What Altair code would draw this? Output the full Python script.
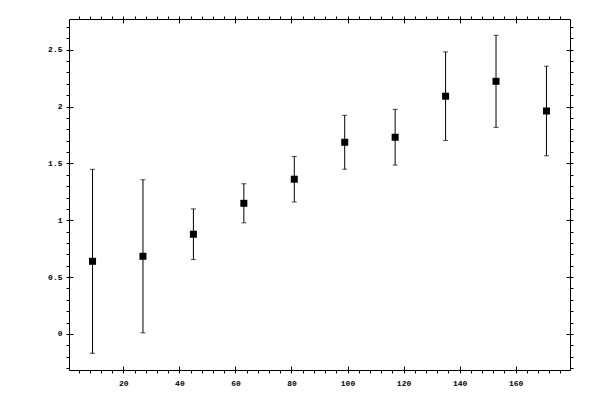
import altair as alt
import pandas as pd

x_vals = [9, 27, 45, 63, 81, 99, 117, 135, 153, 171]
y_vals = [0.639, 0.683, 0.877, 1.149, 1.361, 1.686, 1.730, 2.091, 2.222, 1.961]
err_vals = [0.809, 0.673, 0.223, 0.172, 0.200, 0.237, 0.245, 0.390, 0.405, 0.394]

x_ticks = list(range(4, 180, 4))
x_major = [20, 40, 60, 80, 100, 120, 140, 160]
y_ticks = [round(-0.3 + 0.1 * i, 1) for i in range(31)]
y_major = [0, 0.5, 1, 1.5, 2, 2.5]

df = pd.DataFrame({"x": x_vals, "y": y_vals, "err": err_vals})
df["lo"] = df["y"] - df["err"]
df["hi"] = df["y"] + df["err"]

xs = alt.Scale(domain=[0.6, 179.4], nice=False, zero=False)
ys = alt.Scale(domain=[-0.317, 2.770], nice=False, zero=False)

common = dict(
    domainColor="black", tickColor="black", labelColor="black",
    labelFont="Liberation Mono", labelFontSize=8, labelFontWeight="bold",
    grid=False, title=None,
    labelOverlap=False, labelFlush=False, tickWidth=1, domainWidth=1,
)

ax_bottom_out = alt.Axis(orient="bottom", values=x_ticks, tickSize=3, labelPadding=6,
                         labelExpr="datum.value % 20 == 0 ? format(datum.value, 'd') : ''", **common)
ax_top_out = alt.Axis(orient="top", values=x_ticks, tickSize=3, labels=False, **common)
ax_bottom_in = alt.Axis(orient="bottom", values=x_major, tickSize=4, offset=-4, domain=False,
                        labels=False, **common)
ax_top_in = alt.Axis(orient="top", values=x_major, tickSize=4, offset=-4, domain=False,
                     labels=False, **common)

ax_left_out = alt.Axis(orient="left", values=y_ticks, tickSize=3, labelPadding=4,
                       labelExpr="abs(round(datum.value * 10)) % 5 == 0 ? format(datum.value, '~g') : ''",
                       **common)
ax_right_out = alt.Axis(orient="right", values=y_ticks, tickSize=3, labels=False, **common)
ax_left_in = alt.Axis(orient="left", values=y_major, tickSize=4, offset=-4, domain=False,
                      labels=False, **common)
ax_right_in = alt.Axis(orient="right", values=y_major, tickSize=4, offset=-4, domain=False,
                       labels=False, **common)

base = alt.Chart(df)

bars = base.mark_rule(color="black", strokeWidth=1).encode(
    x=alt.X("x:Q", scale=xs, axis=ax_bottom_out),
    y=alt.Y("lo:Q", scale=ys, axis=ax_left_out),
    y2="hi:Q",
)
cap_lo = base.mark_tick(orient="horizontal", size=5, thickness=1, color="black").encode(
    x=alt.X("x:Q", scale=xs, axis=ax_top_out),
    y=alt.Y("lo:Q", scale=ys, axis=ax_right_out),
)
cap_hi = base.mark_tick(orient="horizontal", size=5, thickness=1, color="black").encode(
    x=alt.X("x:Q", scale=xs, axis=ax_bottom_in),
    y=alt.Y("hi:Q", scale=ys, axis=ax_left_in),
)
points = base.mark_square(size=49, color="black", filled=True, opacity=1, strokeWidth=0).encode(
    x=alt.X("x:Q", scale=xs, axis=ax_top_in),
    y=alt.Y("y:Q", scale=ys, axis=ax_right_in),
)

chart = alt.layer(bars, cap_lo, cap_hi, points).resolve_axis(
    x="independent", y="independent"
).properties(
    width=501, height=351,
    padding={"left": 61, "top": 11, "right": 20, "bottom": 20},
    autosize="none",
    background="white",
).configure_view(stroke="transparent")

chart.save("out.html", embed_options={"renderer": "svg", "actions": False})
